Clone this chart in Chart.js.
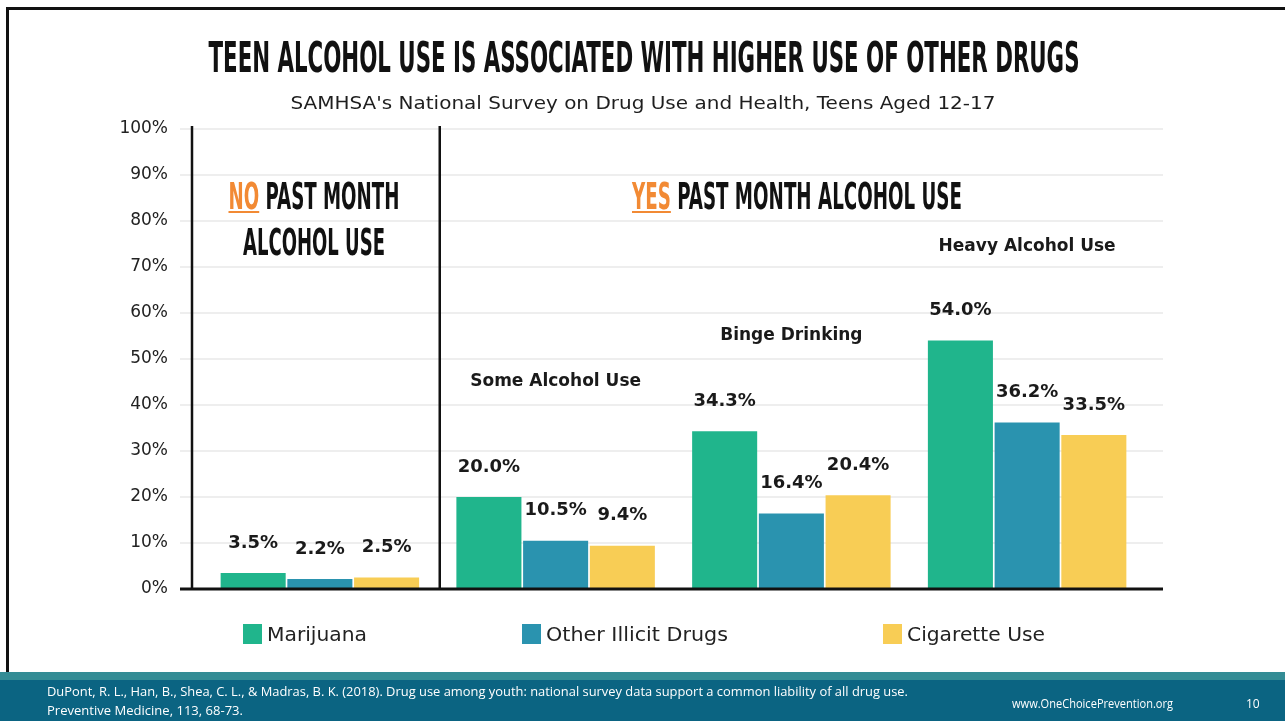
<!DOCTYPE html>
<html>
<head>
<meta charset="utf-8">
<script src="https://cdn.jsdelivr.net/npm/chart.js@4.4.0/dist/chart.umd.min.js"></script>
<style>
  html, body { margin: 0; padding: 0; background: #fff; }
  #slide { position: relative; width: 1285px; height: 721px; overflow: hidden; background: #fff; }
  #c { position: absolute; left: 0; top: 0; }
  .frame { position: absolute; left: 6px; top: 7px; right: -10px; height: 665px;
           border-top: 3px solid #111; border-left: 3px solid #111; box-sizing: border-box; }
  .txt { position: absolute; white-space: nowrap; }
  .head { font-family: "Liberation Sans Narrow", "DejaVu Sans Condensed", sans-serif; font-weight: bold;
          color: #111; line-height: 1; }
  .accent { color: #f28a34; text-decoration: underline; text-decoration-thickness: 2px;
            text-underline-offset: 2px; text-decoration-color: #f28a34; }
  .sub { font-family: "DejaVu Sans", sans-serif; font-size: 17px; line-height: 20px; color: #1e1e1e; }
  .leg-box { position: absolute; width: 19px; height: 20px; }
  .leg { font-family: "DejaVu Sans", sans-serif; font-size: 19px; line-height: 22px; color: #222; }
  .band1 { position: absolute; left: 0; top: 672px; width: 1285px; height: 8px; background: #338c95; }
  .band2 { position: absolute; left: 0; top: 680px; width: 1285px; height: 41px; background: #0b6482; }
  .foot { font-family: "Open Sans", sans-serif; font-size: 12px; line-height: 14px; color: #fff; }
</style>
</head>
<body>
<div id="slide">
  <canvas id="c" width="1285" height="721"></canvas>
  <div class="frame"></div>

  <div class="txt head" data-cx="644" data-w="871" style="top:36px;font-size:43px;">TEEN ALCOHOL USE IS ASSOCIATED WITH HIGHER USE OF OTHER DRUGS</div>
  <div class="txt sub" data-cx="643" data-w="705" style="top:93px;">SAMHSA's National Survey on Drug Use and Health, Teens Aged 12-17</div>

  <div class="txt head" data-cx="314" data-w="171" style="top:177px;font-size:38px;"><span class="accent">NO</span> PAST MONTH</div>
  <div class="txt head" data-cx="314" data-w="142" style="top:223px;font-size:38px;">ALCOHOL USE</div>
  <div class="txt head" data-cx="797" data-w="330" style="top:177px;font-size:38px;"><span class="accent">YES</span> PAST MONTH ALCOHOL USE</div>

  <div id="legend"></div>

  <div class="band1"></div>
  <div class="band2"></div>
  <div class="txt foot" data-left="47" data-w="861" style="left:47px;top:685px;">DuPont, R. L., Han, B., Shea, C. L., &amp; Madras, B. K. (2018). Drug use among youth: national survey data support a common liability of all drug use.</div>
  <div class="txt foot" data-left="47" data-w="196" style="left:47px;top:704px;">Preventive Medicine, 113, 68-73.</div>
  <div class="txt foot" data-left="1012" data-w="161" style="left:1012px;top:697px;">www.OneChoicePrevention.org</div>
  <div class="txt foot" style="left:1246px;top:697px;">10</div>
</div>

<script>
// Survey groups (past-month alcohol use) and the share of teens using each substance, in percent
const categories = ['No Past Month Alcohol Use', 'Some Alcohol Use', 'Binge Drinking', 'Heavy Alcohol Use'];
const seriesNames = ['Marijuana', 'Other Illicit Drugs', 'Cigarette Use'];
const marijuana  = [3.5, 20.0, 34.3, 54.0];
const otherDrugs = [2.2, 10.5, 16.4, 36.2];
const cigarettes = [2.5, 9.4, 20.4, 33.5];
const yTicks = [0, 10, 20, 30, 40, 50, 60, 70, 80, 90, 100];

const colors = ['#20b58c', '#2a93af', '#f8cd55'];
const FONT = '"DejaVu Sans", sans-serif';

// Grid, axis rules, group divider, value labels and group captions
const decor = {
  id: 'decor',
  beforeDatasetsDraw(chart, args, o) {
    const { ctx, scales: { y } } = chart;
    ctx.save();
    ctx.strokeStyle = '#eeeeee';
    ctx.lineWidth = 2;
    y.ticks.forEach(t => {
      if (t.value === 0) return;
      const py = Math.round(y.getPixelForValue(t.value));
      ctx.beginPath(); ctx.moveTo(o.gridLeft, py); ctx.lineTo(o.gridRight, py); ctx.stroke();
    });
    ctx.restore();
  },
  afterDatasetsDraw(chart, args, o) {
    const { ctx, scales: { x, y } } = chart;
    const y0 = y.getPixelForValue(0);
    const yTop = y.getPixelForValue(100) - 3;
    ctx.save();
    // baseline
    ctx.strokeStyle = '#111';
    ctx.lineWidth = 3;
    ctx.beginPath(); ctx.moveTo(o.gridLeft, y0); ctx.lineTo(o.gridRight, y0); ctx.stroke();
    // left rule and the divider between the no-use group and the use groups
    ctx.lineWidth = 2.5;
    ctx.beginPath(); ctx.moveTo(o.axisX, yTop); ctx.lineTo(o.axisX, y0); ctx.stroke();
    const divX = (x.getPixelForValue(0) + x.getPixelForValue(1)) / 2 + 2;
    ctx.beginPath(); ctx.moveTo(divX, yTop); ctx.lineTo(divX, y0); ctx.stroke();

    // value labels above each bar
    ctx.fillStyle = '#1a1a1a';
    ctx.font = 'bold 18px ' + FONT;
    ctx.textAlign = 'center';
    ctx.textBaseline = 'middle';
    chart.data.datasets.forEach((ds, di) => {
      chart.getDatasetMeta(di).data.forEach((bar, i) => {
        ctx.fillText(ds.data[i].toFixed(1) + '%', bar.x, bar.y - 30);
      });
    });

    // captions for the alcohol-use groups
    ctx.font = 'bold 17px ' + FONT;
    categories.forEach((name, i) => {
      const lvl = o.captionLevels[i];
      if (lvl == null) return;
      ctx.fillText(name, x.getPixelForValue(i), y.getPixelForValue(lvl));
    });
    ctx.restore();
  }
};

Chart.defaults.font.family = FONT;

new Chart(document.getElementById('c'), {
  type: 'bar',
  data: {
    labels: categories,
    datasets: [marijuana, otherDrugs, cigarettes].map((d, i) => ({
      label: seriesNames[i],
      data: d,
      backgroundColor: colors[i],
      borderWidth: 0,
      barPercentage: 0.975,
      categoryPercentage: 0.849
    }))
  },
  options: {
    responsive: false,
    animation: false,
    devicePixelRatio: 1,
    layout: { padding: { left: 0, top: 129, right: 140, bottom: 132 } },
    plugins: {
      legend: { display: false },
      tooltip: { enabled: false },
      decor: { gridLeft: 180, gridRight: 1163, axisX: 192, captionLevels: [null, 45, 55, 74.5] }
    },
    scales: {
      x: { display: false },
      y: {
        min: 0, max: 100,
        afterBuildTicks(s) { s.ticks = yTicks.map(v => ({ value: v })); },
        afterFit(s) { s.width = 202; },
        grid: { display: false, drawTicks: false },
        border: { display: false },
        ticks: {
          padding: 34,
          color: '#222',
          font: { size: 17 },
          callback: v => v + '%'
        }
      }
    }
  },
  plugins: [decor]
});

// Legend built from the same series names and colours
const legendLefts = [243, 522, 883];
const legendWidths = [100, 182, 138];
const legend = document.getElementById('legend');
seriesNames.forEach((name, i) => {
  const box = document.createElement('div');
  box.className = 'leg-box';
  box.style.left = legendLefts[i] + 'px';
  box.style.top = '624px';
  box.style.background = colors[i];
  legend.appendChild(box);
  const t = document.createElement('div');
  t.className = 'txt leg';
  t.textContent = name;
  t.style.left = (legendLefts[i] + 24) + 'px';
  t.style.top = '623px';
  t.dataset.left = legendLefts[i] + 24;
  t.dataset.w = legendWidths[i];
  legend.appendChild(t);
});

// Fit text runs to their set widths
function fitText() {
  document.querySelectorAll('.txt[data-w]').forEach(el => {
    el.style.transform = 'none';
    const w = el.getBoundingClientRect().width;
    const s = (+el.dataset.w) / w;
    if (el.dataset.cx) {
      el.style.left = el.dataset.cx + 'px';
      el.style.transformOrigin = 'center top';
      el.style.transform = 'translateX(-50%) scaleX(' + s + ')';
    } else {
      el.style.transformOrigin = 'left top';
      el.style.transform = 'scaleX(' + s + ')';
    }
  });
}
fitText();
if (document.fonts && document.fonts.ready) document.fonts.ready.then(fitText);
</script>
</body>
</html>
